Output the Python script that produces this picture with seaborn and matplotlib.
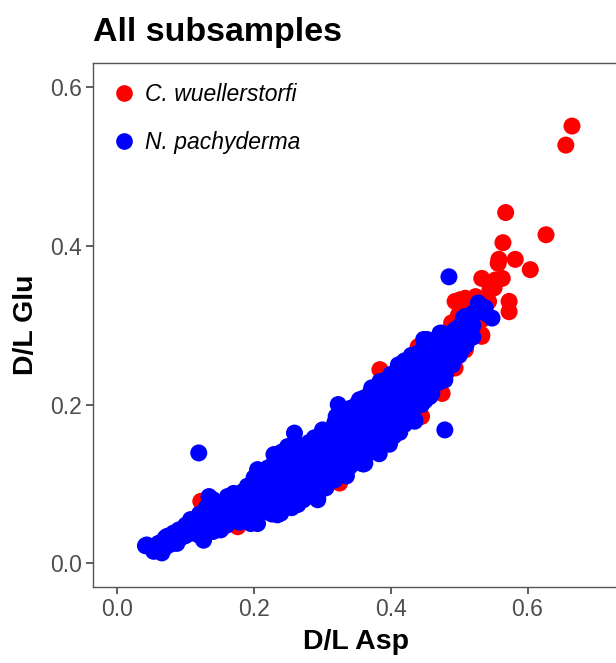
import pandas as pd
import matplotlib
matplotlib.use('Agg')
import matplotlib.pyplot as plt
from matplotlib.lines import Line2D
import seaborn as sns

# C. wuellerstorfi (D/L Asp, D/L Glu)
cw_asp = [0.665, 0.656, 0.568, 0.627, 0.564, 0.604, 0.582, 0.558, 0.557, 0.533,
          0.553, 0.563, 0.551, 0.509, 0.497, 0.524, 0.543, 0.573, 0.573, 0.499,
          0.533, 0.533, 0.524, 0.506, 0.489, 0.501, 0.533, 0.509, 0.384, 0.440,
          0.475, 0.445, 0.494, 0.325, 0.305, 0.308, 0.122, 0.176, 0.131, 0.470,
          0.460, 0.420, 0.400, 0.350, 0.300, 0.250, 0.200, 0.150, 0.480, 0.515,
          0.545, 0.494]
cw_glu = [0.551, 0.527, 0.442, 0.414, 0.404, 0.370, 0.383, 0.383, 0.378, 0.359,
          0.357, 0.359, 0.347, 0.334, 0.330, 0.336, 0.330, 0.330, 0.317, 0.313,
          0.307, 0.288, 0.294, 0.269, 0.303, 0.332, 0.286, 0.269, 0.244, 0.273,
          0.214, 0.185, 0.246, 0.101, 0.166, 0.164, 0.078, 0.046, 0.038, 0.260,
          0.250, 0.230, 0.200, 0.160, 0.130, 0.100, 0.070, 0.055, 0.280, 0.320,
          0.345, 0.330]

# N. pachyderma (D/L Asp, D/L Glu)
np_asp = [0.041, 0.053, 0.065, 0.060, 0.073, 0.078, 0.087, 0.092, 0.097, 0.107,
          0.104, 0.117, 0.119, 0.126, 0.131, 0.134, 0.140, 0.145, 0.151, 0.155,
          0.161, 0.166, 0.172, 0.178, 0.183, 0.190, 0.188, 0.195, 0.198,
          0.205, 0.207, 0.205, 0.210, 0.215, 0.220, 0.222, 0.226, 0.229, 0.232,
          0.239, 0.240, 0.245, 0.250, 0.251, 0.255, 0.259, 0.260, 0.265, 0.268,
          0.269, 0.272, 0.274, 0.278, 0.282, 0.285, 0.288, 0.290, 0.293, 0.295,
          0.298,
          0.303, 0.305, 0.308, 0.312, 0.315, 0.318, 0.320, 0.323, 0.325, 0.327,
          0.327, 0.330, 0.332, 0.335, 0.338, 0.342, 0.345, 0.348, 0.350, 0.353,
          0.354, 0.357, 0.360, 0.362, 0.364, 0.368, 0.370, 0.372, 0.376, 0.376,
          0.376, 0.380, 0.383, 0.386, 0.388, 0.392, 0.395, 0.398,
          0.401, 0.401, 0.405, 0.408, 0.411, 0.413, 0.418, 0.422, 0.426, 0.430,
          0.435, 0.438, 0.440, 0.445, 0.448, 0.450, 0.450, 0.453, 0.455, 0.460,
          0.462, 0.465, 0.468, 0.472, 0.475, 0.479, 0.479, 0.482, 0.485, 0.489,
          0.492, 0.494, 0.494, 0.494,
          0.505, 0.509, 0.514, 0.519, 0.528, 0.538, 0.538, 0.548,
          0.043, 0.082, 0.249, 0.318, 0.372, 0.384, 0.506, 0.234, 0.264, 0.293,
          0.357, 0.404, 0.435, 0.457, 0.479, 0.504,
          0.06, 0.07, 0.07, 0.08, 0.09, 0.09, 0.10, 0.10, 0.11, 0.11,
          0.12, 0.12, 0.12, 0.13, 0.13, 0.14, 0.14, 0.14, 0.15, 0.15,
          0.16, 0.16, 0.16, 0.17, 0.17, 0.17, 0.18, 0.18, 0.18, 0.19,
          0.19, 0.19, 0.20, 0.20, 0.20, 0.20, 0.21, 0.21, 0.21, 0.22,
          0.22, 0.22, 0.22, 0.23, 0.23, 0.23, 0.23, 0.24, 0.24, 0.24,
          0.24, 0.24, 0.25, 0.25, 0.25, 0.25, 0.26, 0.26, 0.26, 0.26,
          0.26, 0.27, 0.27, 0.27, 0.27, 0.28, 0.28, 0.28, 0.28, 0.28,
          0.29, 0.29, 0.29, 0.29, 0.30, 0.30, 0.30, 0.30, 0.30, 0.31,
          0.31, 0.31, 0.31, 0.32, 0.32, 0.32, 0.32, 0.32, 0.33, 0.33,
          0.33, 0.33, 0.33, 0.34, 0.34, 0.34, 0.34, 0.34, 0.35, 0.35,
          0.35, 0.35, 0.35, 0.36, 0.36, 0.36, 0.36, 0.36, 0.37, 0.37,
          0.37, 0.37, 0.37, 0.38, 0.38, 0.38, 0.38, 0.38, 0.39, 0.39,
          0.39, 0.39, 0.39, 0.40, 0.40, 0.40, 0.40, 0.40, 0.41, 0.41,
          0.41, 0.41, 0.41, 0.42, 0.42, 0.42, 0.42, 0.42, 0.43, 0.43,
          0.43, 0.43, 0.43, 0.44, 0.44, 0.44, 0.44, 0.45, 0.45, 0.45,
          0.45, 0.45, 0.46, 0.46, 0.46, 0.46, 0.47, 0.47, 0.47, 0.47,
          0.48, 0.48, 0.48, 0.48, 0.49, 0.49, 0.49, 0.50, 0.50, 0.50,
          0.51, 0.51, 0.51, 0.52, 0.52, 0.52]
np_glu = [0.022, 0.015, 0.013, 0.022, 0.034, 0.024, 0.025, 0.036, 0.034, 0.055,
          0.040, 0.042, 0.139, 0.029, 0.063, 0.084, 0.050, 0.070, 0.042, 0.060,
          0.084, 0.059, 0.075, 0.052, 0.090, 0.097, 0.068, 0.050, 0.080,
          0.118, 0.100, 0.050, 0.070, 0.088, 0.092, 0.110, 0.062, 0.137, 0.078,
          0.063, 0.100, 0.120, 0.085, 0.145, 0.070, 0.164, 0.110, 0.130, 0.095,
          0.113, 0.080, 0.088, 0.140, 0.120, 0.100, 0.158, 0.135, 0.082, 0.110,
          0.150,
          0.113, 0.095, 0.130, 0.150, 0.168, 0.105, 0.140, 0.200, 0.120, 0.134,
          0.168, 0.155, 0.180, 0.110, 0.145, 0.125, 0.170, 0.190, 0.140, 0.155,
          0.206, 0.185, 0.125, 0.126, 0.170, 0.145, 0.200, 0.160, 0.147, 0.219,
          0.185, 0.175, 0.138, 0.219, 0.195, 0.160, 0.210, 0.150,
          0.219, 0.177, 0.235, 0.195, 0.250, 0.165, 0.215, 0.185, 0.231, 0.205,
          0.181, 0.250, 0.225, 0.200, 0.282, 0.261, 0.269, 0.282, 0.235, 0.214,
          0.255, 0.277, 0.240, 0.290, 0.290, 0.244, 0.168, 0.265, 0.361, 0.277,
          0.285, 0.269, 0.294, 0.267,
          0.300, 0.311, 0.298, 0.298, 0.328, 0.322, 0.315, 0.309,
          0.023, 0.038, 0.147, 0.177, 0.221, 0.229, 0.309, 0.061, 0.074, 0.080,
          0.126, 0.160, 0.179, 0.210, 0.231, 0.269,
          0.025, 0.020, 0.032, 0.030, 0.030, 0.042, 0.035, 0.048, 0.038, 0.052,
          0.035, 0.050, 0.062, 0.045, 0.070, 0.040, 0.060, 0.080, 0.048, 0.072,
          0.048, 0.066, 0.080, 0.055, 0.072, 0.088, 0.052, 0.068, 0.085, 0.060,
          0.078, 0.092, 0.058, 0.075, 0.092, 0.108, 0.065, 0.085, 0.102, 0.065,
          0.080, 0.100, 0.120, 0.072, 0.092, 0.112, 0.128, 0.070, 0.088, 0.108,
          0.128, 0.140, 0.078, 0.098, 0.118, 0.135, 0.078, 0.095, 0.115, 0.135,
          0.152, 0.085, 0.105, 0.125, 0.145, 0.085, 0.100, 0.118, 0.135, 0.152,
          0.092, 0.110, 0.128, 0.145, 0.095, 0.115, 0.135, 0.155, 0.168, 0.105,
          0.122, 0.142, 0.160, 0.112, 0.130, 0.150, 0.170, 0.185, 0.115, 0.135,
          0.155, 0.175, 0.190, 0.122, 0.140, 0.160, 0.180, 0.195, 0.128, 0.148,
          0.168, 0.188, 0.200, 0.135, 0.155, 0.175, 0.195, 0.208, 0.140, 0.160,
          0.180, 0.200, 0.215, 0.150, 0.168, 0.188, 0.205, 0.222, 0.155, 0.175,
          0.195, 0.215, 0.230, 0.162, 0.182, 0.200, 0.220, 0.238, 0.170, 0.190,
          0.210, 0.230, 0.245, 0.175, 0.195, 0.215, 0.235, 0.255, 0.190, 0.205,
          0.225, 0.245, 0.262, 0.200, 0.220, 0.240, 0.265, 0.205, 0.222, 0.240,
          0.260, 0.275, 0.222, 0.240, 0.260, 0.280, 0.228, 0.245, 0.262, 0.280,
          0.238, 0.255, 0.272, 0.288, 0.250, 0.265, 0.282, 0.262, 0.280, 0.298,
          0.275, 0.290, 0.305, 0.285, 0.300, 0.315]

species = ['C. wuellerstorfi', 'N. pachyderma']
colors = ['red', 'blue']

df = pd.concat([
    pd.DataFrame({'asp': cw_asp, 'glu': cw_glu, 'species': species[0]}),
    pd.DataFrame({'asp': np_asp, 'glu': np_glu, 'species': species[1]}),
], ignore_index=True)

sns.set_style('white')
plt.rcParams['font.family'] = ['Liberation Sans', 'DejaVu Sans']

fig = plt.figure(figsize=(6.16, 6.63), dpi=100)
ax = fig.add_axes([0.151, 0.1146, 0.853, 0.791])

sns.scatterplot(data=df, x='asp', y='glu', hue='species',
                palette=dict(zip(species, colors)), s=150, linewidth=0,
                alpha=1, legend=False, ax=ax)

ax.set_xlim(-0.0357, 0.733)
ax.set_ylim(-0.030, 0.631)
ax.set_xticks([0.0, 0.2, 0.4, 0.6])
ax.set_yticks([0.0, 0.2, 0.4, 0.6])
ax.set_xticklabels(['0.0', '0.2', '0.4', '0.6'])
ax.set_yticklabels(['0.0', '0.2', '0.4', '0.6'])
ax.tick_params(axis='both', which='major', labelsize=16.5, labelcolor='#4D4D4D',
               length=5, width=1.1, color='#333333', direction='out',
               bottom=True, left=True, pad=3)

for side in ['left', 'bottom', 'top', 'right']:
    ax.spines[side].set_visible(True)
    ax.spines[side].set_color('#555555')
    ax.spines[side].set_linewidth(1)

ax.set_xlabel('D/L Asp', fontsize=20.5, fontweight='bold', color='black',
              labelpad=6)
ax.set_ylabel('D/L Glu', fontsize=20.5, fontweight='bold', color='black',
              labelpad=8)
fig.text(0.151, 0.938, 'All subsamples', fontsize=24.5, fontweight='bold',
         color='black', ha='left', va='baseline')

handles = [Line2D([], [], marker='o', linestyle='', markersize=12,
                  markerfacecolor=c, markeredgewidth=0) for c in colors]
ax.legend(handles, species, loc='upper left', frameon=False,
          prop={'style': 'italic', 'size': 16.5}, handletextpad=0.53,
          labelspacing=1.07, borderaxespad=0.5, borderpad=0.41,
          handlelength=0.85, labelcolor='black')

fig.savefig('out.png', dpi=100)
